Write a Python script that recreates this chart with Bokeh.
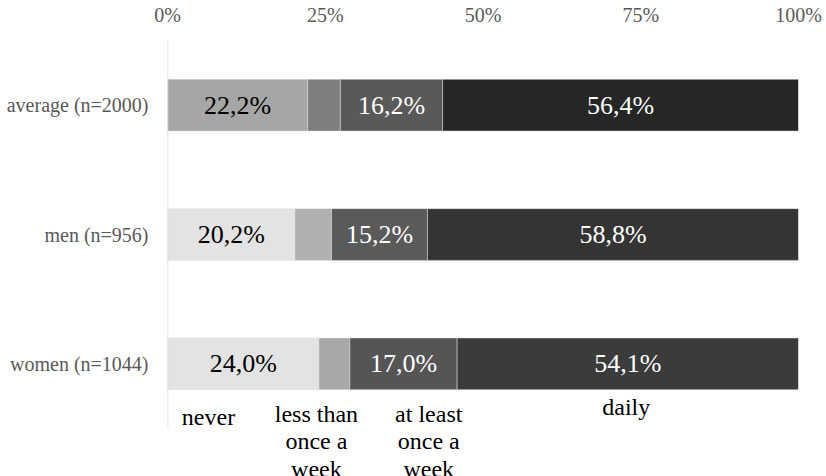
from bokeh.plotting import figure
from bokeh.models import Range1d, FixedTicker, ColumnDataSource
from bokeh.core.properties import value
from bokeh.embed import file_html
from bokeh.resources import INLINE

# ---- data ----
groups = ["average (n=2000)", "men (n=956)", "women (n=1044)"]
answers = ["never", "less than\nonce a\nweek", "at least\nonce a\nweek", "daily"]
never = [22.2, 20.2, 24.0]
less_than_weekly = [5.2, 5.8, 4.9]
weekly = [16.2, 15.2, 17.0]
daily = [56.4, 58.8, 54.1]
x_ticks = [0, 25, 50, 75, 100]
x_tick_labels = ["0%", "25%", "50%", "75%", "100%"]

# ---- styles ----
row_colors = [
    ["#a6a6a6", "#7f7f7f", "#595959", "#262626"],
    ["#e3e3e3", "#b0b0b0", "#5a5a5a", "#343434"],
    ["#e3e3e3", "#a8a8a8", "#555555", "#3b3b3b"],
]
seg_text_colors = ["black", None, "white", "white"]
answer_label_x = [6.5, 23.6, 41.4, 72.7]
answer_label_y = [0.19, 0.213, 0.213, 0.267]
FONT = "Liberation Serif"

series = [never, less_than_weekly, weekly, daily]
ypos = [len(groups) - 0.5 - i for i in range(len(groups))]

p = figure(width=826, height=476, output_backend="svg", toolbar_location=None,
           x_range=Range1d(0, 100), y_range=Range1d(-0.371, 3),
           x_axis_location="above", min_border_left=167, min_border_right=28,
           min_border_top=40, min_border_bottom=0)
p.outline_line_color = None
p.grid.visible = False
p.background_fill_color = "white"
p.border_fill_color = "white"

# bars
left = [0.0] * len(groups)
for k, vals in enumerate(series):
    right = [l + v for l, v in zip(left, vals)]
    src = ColumnDataSource(dict(
        y=ypos, left=left, right=right,
        color=[row_colors[i][k] for i in range(len(groups))],
        mid=[(l + r) / 2 for l, r in zip(left, right)],
        label=[f"{v:.1f}".replace(".", ",") + "%" for v in vals],
    ))
    p.hbar(y="y", left="left", right="right", height=0.40, fill_color="color",
           line_color="#e0e0e0", line_width=0.5, source=src)
    if seg_text_colors[k] is not None:
        p.text(x="mid", y="y", text="label", source=src, text_align="center",
               text_baseline="middle", text_font=value(FONT),
               text_font_size="26px", text_color=seg_text_colors[k])
    left = right

# left axis line (only across the category area)
p.segment(x0=[0], y0=[0], x1=[0], y1=[3], line_color="#d9d9d9", line_width=1.5)

# answer labels under the bars
p.text(x=answer_label_x, y=answer_label_y, text=answers, text_align="center",
       text_baseline="top", text_font=value(FONT), text_font_size="24px",
       text_color="black", text_line_height=1.05)

# x axis (top)
xa = p.xaxis[0]
xa.ticker = FixedTicker(ticks=x_ticks)
xa.major_label_overrides = {t: l for t, l in zip(x_ticks, x_tick_labels)}
xa.axis_line_color = None
xa.major_tick_line_color = None
xa.minor_tick_line_color = None
xa.major_label_standoff = 9
xa.major_label_text_font = FONT
xa.major_label_text_font_size = "20px"
xa.major_label_text_color = "#595959"

# y axis (left)
ya = p.yaxis[0]
ya.ticker = FixedTicker(ticks=ypos)
ya.major_label_overrides = {y: g for y, g in zip(ypos, groups)}
ya.axis_line_color = None
ya.major_tick_line_color = None
ya.minor_tick_line_color = None
ya.major_label_standoff = 13
ya.major_label_text_font = FONT
ya.major_label_text_font_size = "20px"
ya.major_label_text_color = "#595959"

open("out.html", "w").write(file_html(p, INLINE))
